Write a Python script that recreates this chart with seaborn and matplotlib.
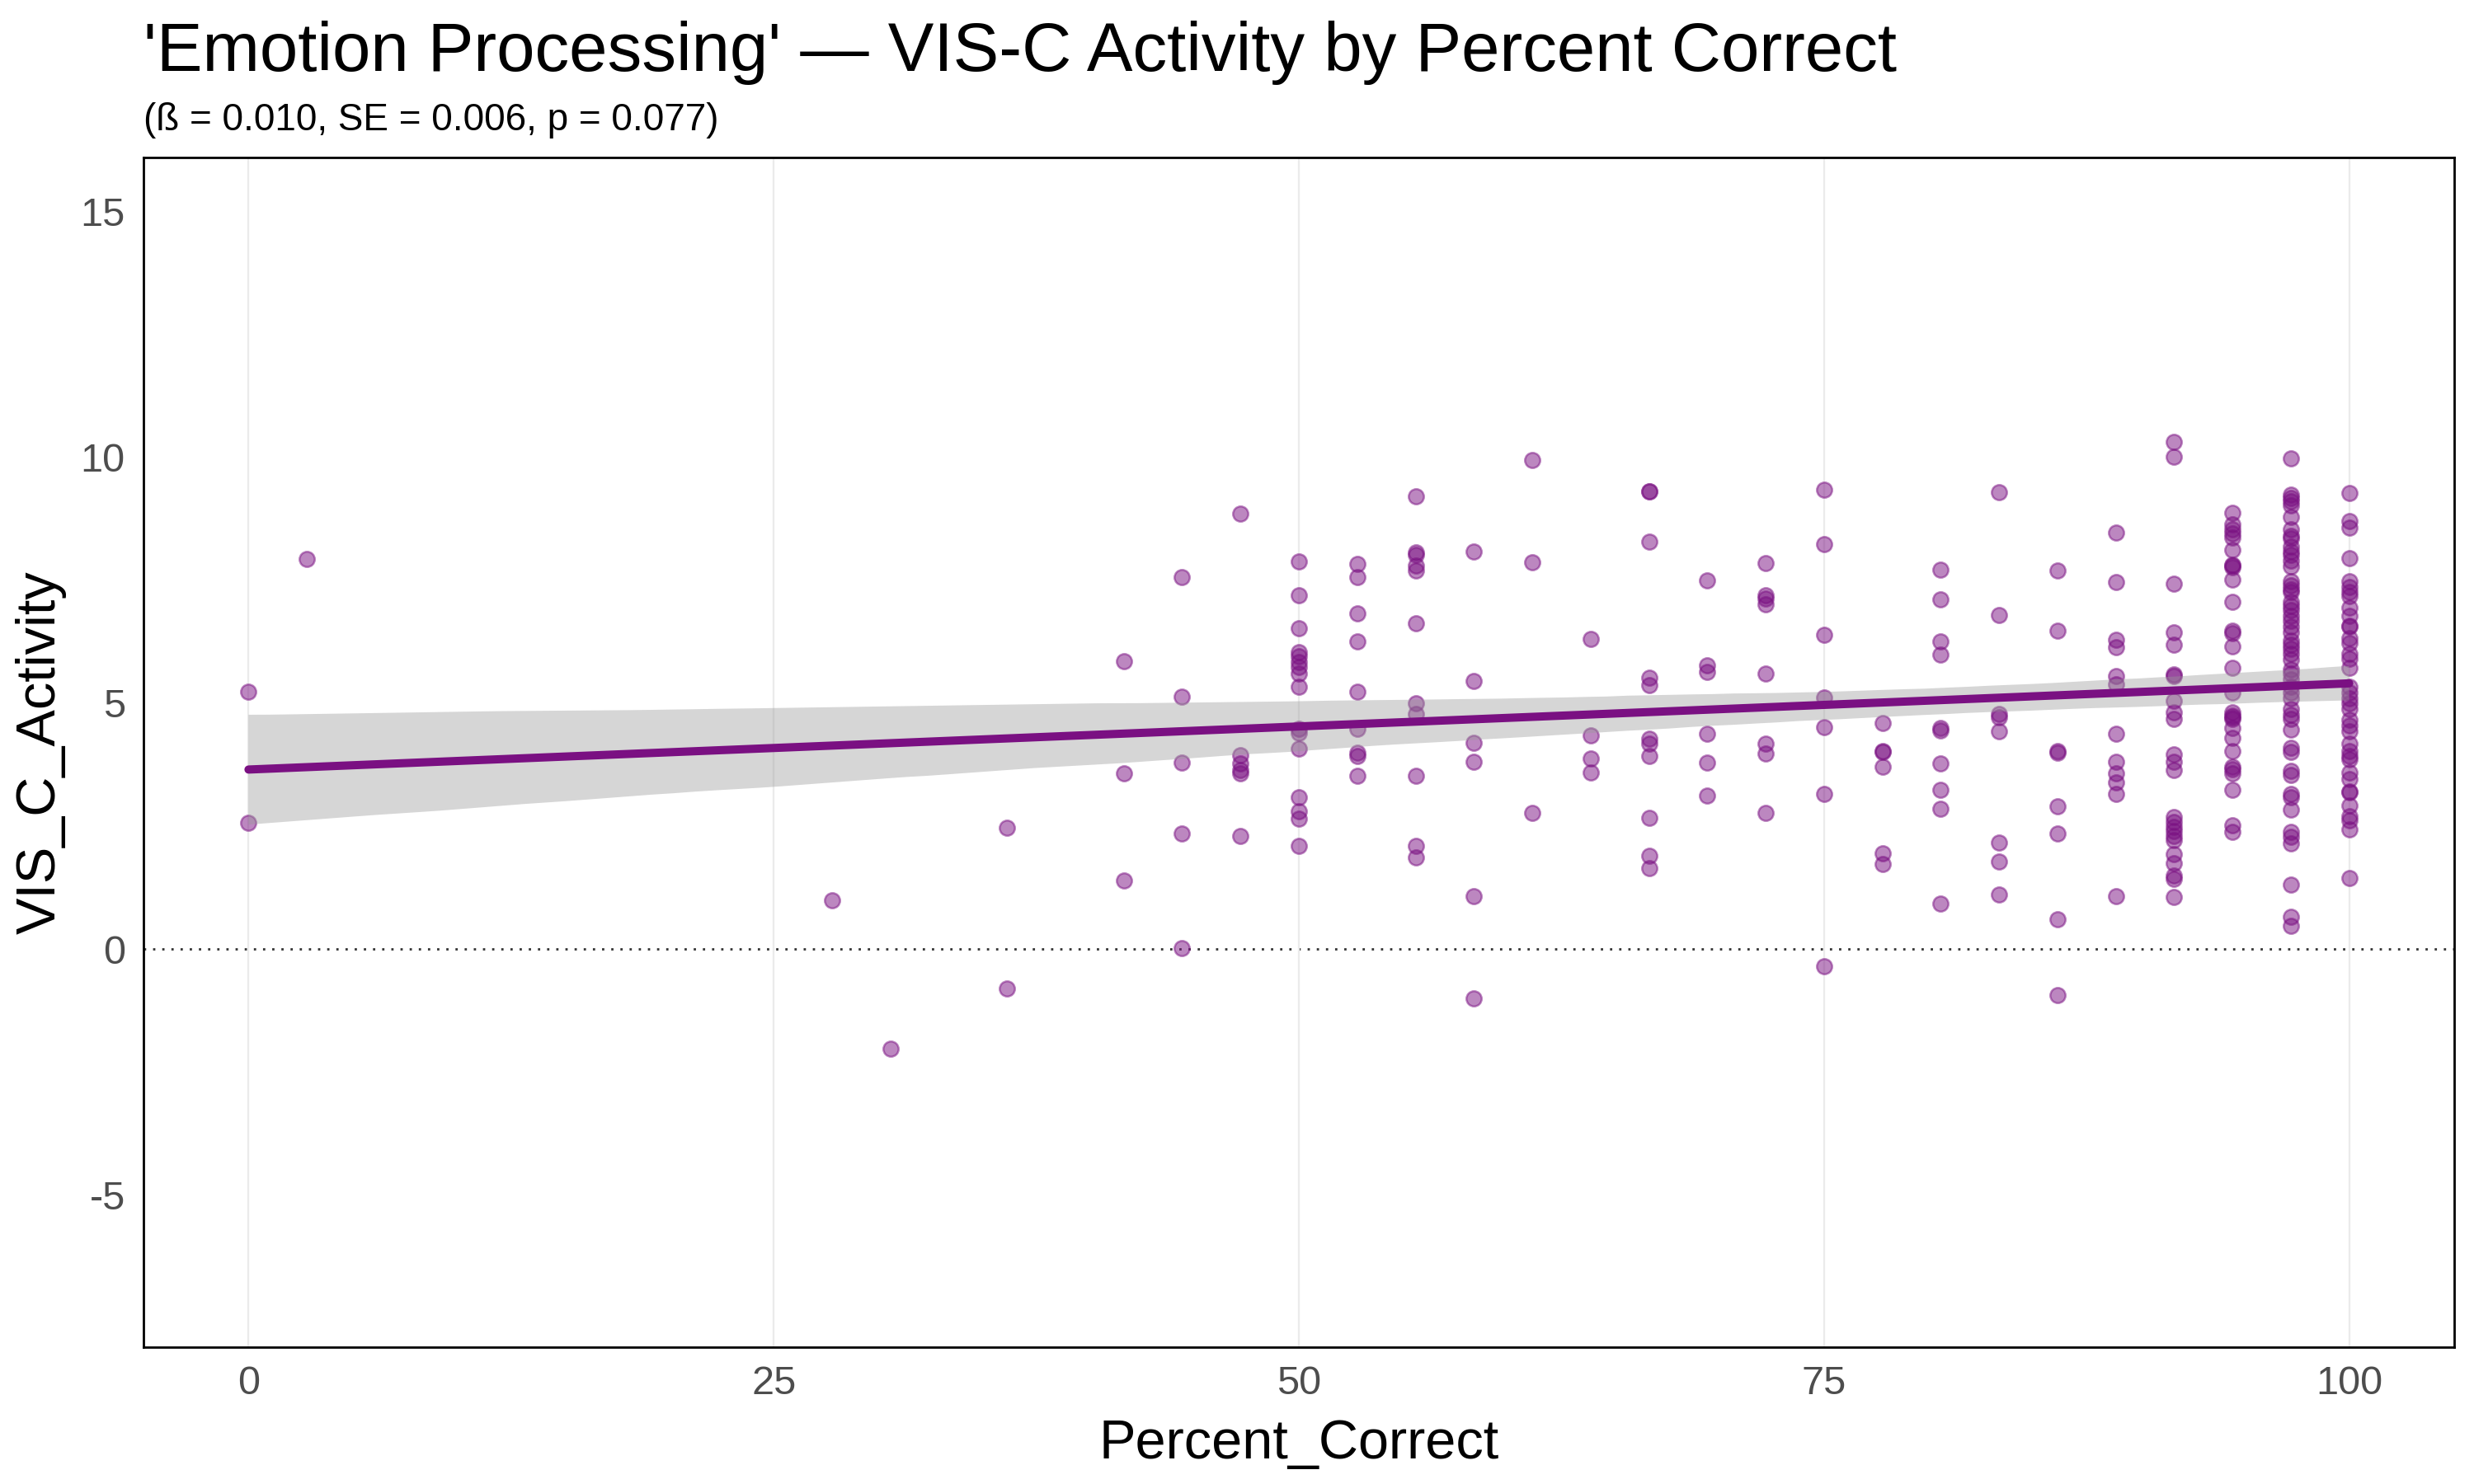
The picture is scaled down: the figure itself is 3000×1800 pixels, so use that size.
import matplotlib
matplotlib.use("Agg")
import matplotlib.pyplot as plt
import seaborn as sns
import pandas as pd

# ---- data: VIS_C_Activity values grouped by Percent_Correct level ----
pc_levels = [0.0, 2.78, 27.78, 30.56, 36.11, 41.67, 44.44, 47.22, 50.0, 52.78,
             55.56, 58.33, 61.11, 63.89, 66.67, 69.44, 72.22, 75.0, 77.78,
             80.56, 83.33, 86.11, 88.89, 91.67, 94.44, 97.22, 100.0]

act_000 = [5.23, 2.56]
act_003 = [7.93]
act_028 = [0.99]
act_031 = [-2.03]
act_036 = [2.47, -0.81]
act_042 = [5.86, 3.57, 1.40]
act_044 = [7.57, 5.14, 3.79, 2.34, 0.01]
act_047 = [8.85, 3.94, 3.77, 3.64, 3.57, 2.30]
act_050 = [7.89, 7.20, 6.52, 6.03, 5.96, 5.83, 5.73, 5.60, 5.34, 4.47, 4.40,
           4.08, 3.09, 2.80, 2.65, 2.10]
act_053 = [7.84, 7.57, 6.83, 6.26, 5.23, 4.47, 3.99, 3.93, 3.53]
act_056 = [9.20, 8.07, 8.02, 7.80, 7.70, 6.63, 4.99, 4.78, 3.53, 2.09, 1.87]
act_058 = [8.08, 5.45, 4.19, 3.80, 1.07, -1.00]
act_061 = [9.95, 7.87, 2.76]
act_064 = [6.31, 4.35, 3.88, 3.59]
act_067 = [9.31, 9.30, 8.28, 5.51, 5.37, 4.28, 4.18, 3.93, 2.67, 1.89, 1.64]
act_069 = [7.50, 5.77, 5.63, 4.38, 3.79, 3.12]
act_072 = [7.85, 7.19, 7.13, 7.01, 5.60, 4.18, 3.97, 2.76]
act_075 = [9.34, 8.24, 6.39, 5.11, 4.52, 3.16, -0.35]
act_078 = [4.60, 4.03, 4.01, 3.71, 1.94, 1.72]
act_081 = [7.72, 7.11, 6.25, 5.98, 4.50, 4.45, 3.77, 3.23, 2.85, 0.92]
act_083 = [9.29, 6.80, 4.78, 4.71, 4.42, 2.17, 1.77, 1.11]
act_086 = [7.69, 6.48, 4.02, 4.00, 2.91, 2.35, 0.61, -0.94]
act_089 = [8.47, 7.46, 6.29, 6.14, 5.55, 5.39, 4.38, 3.81, 3.57, 3.39, 3.16, 1.08]
act_092 = [10.32, 10.02, 7.43, 6.44, 6.19, 5.58, 5.55, 5.05, 4.82, 4.68, 3.96,
           3.80, 3.64, 2.68, 2.58, 2.48, 2.40, 2.30, 2.22, 1.93, 1.75, 1.50,
           1.42, 1.05]
act_094 = [8.88, 8.63, 8.54, 8.46, 8.37, 8.12, 7.82, 7.80, 7.76, 7.52, 7.06,
           6.47, 6.42, 6.15, 5.72, 5.22, 4.82, 4.75, 4.72, 4.68, 4.49, 4.29,
           4.03, 3.71, 3.65, 3.57, 3.24, 2.52, 2.38]
act_097 = [9.98, 9.24, 9.18, 9.10, 9.02, 8.78, 8.54, 8.40, 8.35, 8.18, 8.09,
           8.01, 7.90, 7.79, 7.48, 7.40, 7.31, 7.26, 7.06, 6.98, 6.89, 6.78,
           6.67, 6.56, 6.44, 6.28, 6.19, 6.11, 6.00, 5.89, 5.69, 5.61, 5.49,
           5.33, 5.22, 5.10, 4.88, 4.77, 4.68, 4.46, 4.10, 4.01, 3.62, 3.54,
           3.15, 3.09, 2.84, 2.39, 2.28, 2.14, 1.31, 0.66, 0.47]
act_100 = [9.28, 8.71, 8.57, 7.95, 7.48, 7.37, 7.26, 7.17, 6.95, 6.78, 6.58,
           6.56, 6.33, 6.22, 6.00, 5.91, 5.72, 5.33, 5.22, 5.10, 4.99, 4.88,
           4.66, 4.54, 4.43, 4.18, 4.02, 3.93, 3.85, 3.59, 3.46, 3.21, 3.19,
           2.92, 2.70, 2.62, 2.43, 1.45]

activity_groups = [act_000, act_003, act_028, act_031, act_036, act_042, act_044,
                   act_047, act_050, act_053, act_056, act_058, act_061, act_064,
                   act_067, act_069, act_072, act_075, act_078, act_081, act_083,
                   act_086, act_089, act_092, act_094, act_097, act_100]

x_ticks = [0, 25, 50, 75, 100]
y_ticks = [-5, 0, 5, 10, 15]

title_text = "'Emotion Processing' \u2014 VIS-C Activity by Percent Correct"
subtitle_text = "(\u00df = 0.010, SE = 0.006, p = 0.077)"

rows = []
for lvl, vals in zip(pc_levels, activity_groups):
    for v in vals:
        rows.append((lvl, v))
df = pd.DataFrame(rows, columns=["Percent_Correct", "VIS_C_Activity"])

# ---- styling ----
sns.set_theme(style="white")
plt.rcParams["font.family"] = ["Liberation Sans", "DejaVu Sans"]
plt.rcParams["axes.unicode_minus"] = False

PURPLE = "#7A1082"

fig = plt.figure(figsize=(15, 9), dpi=200)
ax = fig.add_axes([0.058, 0.0922, 0.934, 0.8017])

sns.scatterplot(data=df, x="Percent_Correct", y="VIS_C_Activity", ax=ax,
                color=PURPLE, alpha=0.5, s=44, edgecolor=PURPLE,
                linewidth=0.9, zorder=1, legend=False)

n_before = len(ax.collections)
sns.regplot(data=df, x="Percent_Correct", y="VIS_C_Activity", ax=ax,
            scatter=False, ci=95, seed=1, color=PURPLE,
            line_kws=dict(linewidth=3.6, zorder=3))
for coll in ax.collections[n_before:]:
    coll.set_alpha(None)
    coll.set_facecolor((0.6, 0.6, 0.6, 0.4))
    coll.set_edgecolor("none")
    coll.set_zorder(2)

ax.axhline(0, color="#333333", linestyle=(0, (1, 3)), linewidth=1.0, zorder=0.5)

ax.set_xlim(-5, 105)
ax.set_ylim(-8.1, 16.1)
ax.set_xticks(x_ticks)
ax.set_yticks(y_ticks)
ax.grid(axis="x", color="#EBEBEB", linewidth=0.8)
ax.grid(axis="y", visible=False)
ax.set_axisbelow(True)
ax.tick_params(axis="both", length=0, labelsize=17.5, labelcolor="#4D4D4D", pad=8)

for sp in ax.spines.values():
    sp.set_visible(True)
    sp.set_color("black")
    sp.set_linewidth(1.0)

ax.set_xlabel("Percent_Correct", fontsize=24, color="black", labelpad=7)
ax.set_ylabel("VIS_C_Activity", fontsize=24, color="black", labelpad=6)

fig.text(0.058, 1 - 86 / 1800, title_text, fontsize=30, color="black",
         ha="left", va="baseline")
fig.text(0.058, 1 - 158 / 1800, subtitle_text, fontsize=16.5, color="black",
         ha="left", va="baseline")

fig.savefig("out.png", dpi=200, facecolor="white")
